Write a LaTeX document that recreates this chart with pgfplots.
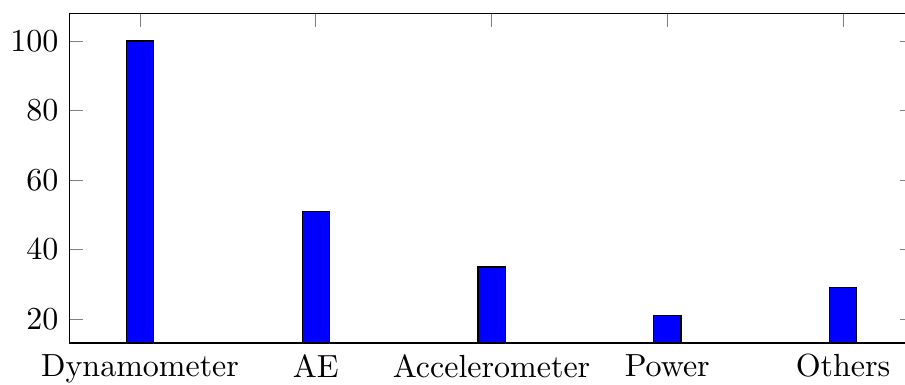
\documentclass[border=0pt]{standalone}
\usepackage{pgfplots}
\pgfplotsset{compat=1.18}
\begin{document}
\begin{tikzpicture}
\begin{axis}[
  scale only axis,
  width=263.6pt, height=103pt,
  ybar, bar width=8.5pt,
  tick align=inside,
  xmin=-0.4, xmax=4.4,
  ymin=13.1, ymax=107.9,
  xtick=data,
  xticklabels={Dynamometer, AE, Accelerometer, Power, Others},
  ytick={20,40,60,80,100},
]
\addplot[fill=blue, draw=black] coordinates {
  (0,100) (1,51) (2,35) (3,21) (4,29)
};
\end{axis}
\pgfresetboundingbox
\path[use as bounding box]
  ([xshift=-21.8pt,yshift=-13.1pt]current axis.south west)
  rectangle ([xshift=-2.6pt,yshift=4.2pt]current axis.north east);
\end{tikzpicture}
\end{document}
